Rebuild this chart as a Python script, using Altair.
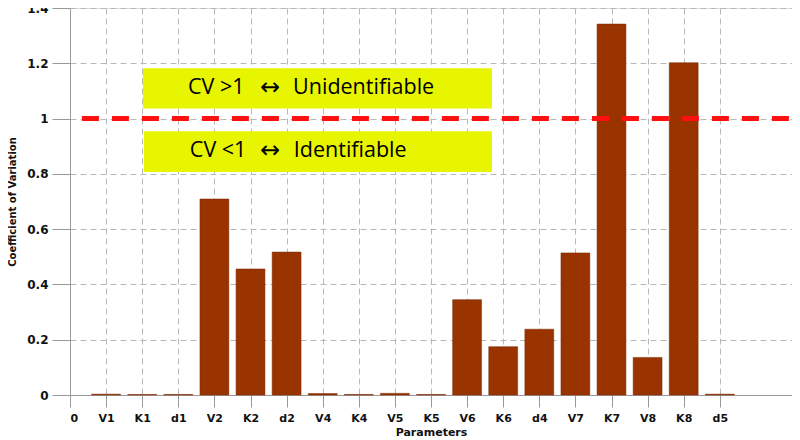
import altair as alt
import pandas as pd

params = ["V1", "K1", "d1", "V2", "K2", "d2", "V4", "K4", "V5", "K5",
          "V6", "K6", "d4", "V7", "K7", "V8", "K8", "d5"]
cv = [0.003, 0.002, 0.002, 0.709, 0.456, 0.517, 0.005, 0.002, 0.006, 0.002,
      0.345, 0.175, 0.238, 0.514, 1.342, 0.136, 1.202, 0.003]
positions = list(range(1, len(params) + 1))
tick_labels = ["0"] + params

threshold = [1.0]
box_x = [2.02, 2.05]
box_x2 = [11.69, 11.69]
box_y = [1.182, 0.954]
box_y2 = [1.036, 0.807]
left_text = ["CV >1", "CV <1"]
left_x = [3.27, 3.32]
arrow_text = ["\u2194", "\u2194"]
arrow_x = [5.54, 5.54]
right_text = ["Unidentifiable", "Identifiable"]
right_x = [6.18, 6.2]
text_y = [1.109, 0.881]

bars_df = pd.DataFrame({"pos": positions, "param": params, "cv": cv})
boxes_df = pd.DataFrame({"x": box_x, "x2": box_x2, "y": box_y, "y2": box_y2,
                         "lx": left_x, "ax": arrow_x, "rx": right_x, "ty": text_y,
                         "lt": left_text, "at": arrow_text, "rt": right_text})
thr_df = pd.DataFrame({"y": threshold, "x": [0.33], "x2": [20]})

label_expr = "[" + ",".join("'%s'" % t for t in tick_labels) + "][datum.value]"

xscale = alt.Scale(domain=[0, 20], nice=False, zero=False)
yscale = alt.Scale(domain=[0, 1.4], nice=False)

xaxis = alt.Axis(values=list(range(0, 19)), labelExpr=label_expr, title="Parameters",
                 grid=True, gridDash=[6, 4], gridColor="#b8b8b8",
                 domainColor="#999999", tickColor="#999999", tickSize=12,
                 labelPadding=5, labelFont="DejaVu Sans", labelFontWeight="bold",
                 labelFontSize=11, labelColor="#111111", titleFont="DejaVu Sans",
                 titleFontWeight="bold", titleFontSize=11, titlePadding=3,
                 titleColor="#111111")
yaxis = alt.Axis(values=[0, 0.2, 0.4, 0.6, 0.8, 1.0, 1.2, 1.4],
                 labelExpr="datum.value == 0 ? '0' : datum.value == 1 ? '1' : format(datum.value, '.1f')",
                 title="Coefficient of Variation", grid=True, gridDash=[6, 4],
                 gridColor="#b8b8b8", domainColor="#999999", tickColor="#999999",
                 tickSize=18, labelPadding=4, labelFont="DejaVu Sans",
                 labelFontWeight="bold", labelFontSize=12, labelColor="#111111",
                 titleFont="DejaVu Sans", titleFontWeight="bold", titleFontSize=10,
                 titlePadding=9, titleColor="#111111")

bars = alt.Chart(bars_df).transform_calculate(
    x0="datum.pos - 0.4", x1="datum.pos + 0.4"
).mark_bar(color="#993300", stroke="#7a2800", strokeWidth=0.5).encode(
    x=alt.X("x0:Q", scale=xscale, axis=xaxis),
    x2="x1:Q",
    y=alt.Y("cv:Q", scale=yscale, axis=yaxis),
    y2=alt.datum(0),
)

boxes = alt.Chart(boxes_df).mark_rect(color="#E8F500").encode(
    x=alt.X("x:Q", scale=xscale), x2="x2:Q",
    y=alt.Y("y:Q", scale=yscale), y2="y2:Q",
)

left_texts = alt.Chart(boxes_df).mark_text(align="left", baseline="middle", fontSize=21.5,
                                           font="Open Sans", color="#000000").encode(
    x=alt.X("lx:Q", scale=xscale), y=alt.Y("ty:Q", scale=yscale), text="lt:N"
)
arrows = alt.Chart(boxes_df).mark_text(align="center", baseline="middle", fontSize=24,
                                       font="DejaVu Sans", color="#000000").encode(
    x=alt.X("ax:Q", scale=xscale), y=alt.Y("ty:Q", scale=yscale), text="at:N"
)
right_texts = alt.Chart(boxes_df).mark_text(align="left", baseline="middle", fontSize=21.5,
                                            font="Open Sans", color="#000000").encode(
    x=alt.X("rx:Q", scale=xscale), y=alt.Y("ty:Q", scale=yscale), text="rt:N"
)

rule = alt.Chart(thr_df).mark_rule(color="#FF1010", strokeWidth=5,
                                   strokeDash=[17, 13]).encode(
    x=alt.X("x:Q", scale=xscale), x2="x2:Q", y=alt.Y("y:Q", scale=yscale)
)

chart = alt.layer(bars, boxes, left_texts, arrows, right_texts, rule).properties(
    width=722, height=387,
    padding={"top": 0, "left": 62, "right": 0, "bottom": 45},
    autosize=alt.AutoSizeParams(type="none"),
).configure_view(stroke="#aaaaaa", strokeWidth=1).configure(background="white")

chart.save("out.html", embed_options={"renderer": "svg", "actions": False})
